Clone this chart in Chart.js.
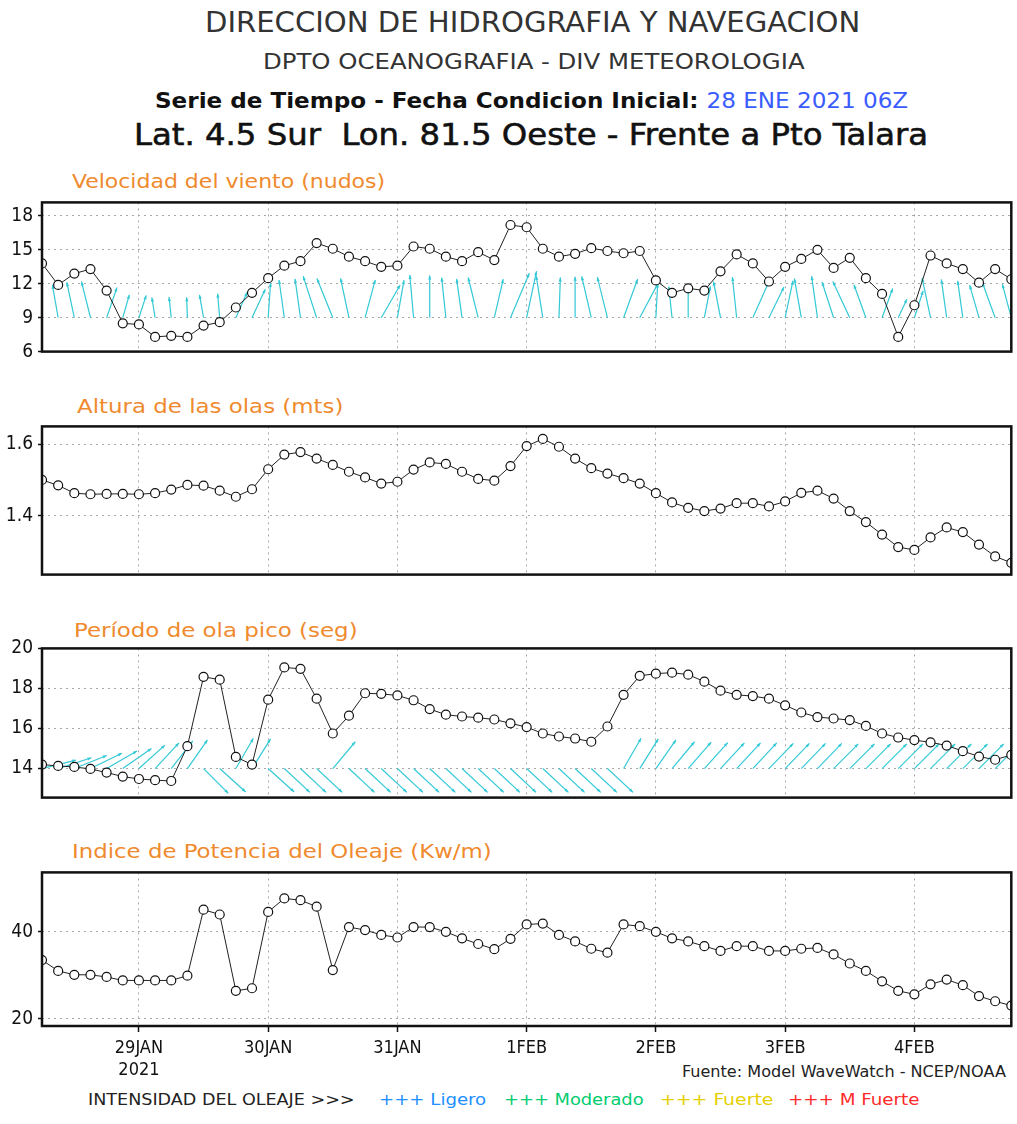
<!DOCTYPE html>
<html>
<head>
<meta charset="utf-8">
<script src="https://cdn.jsdelivr.net/npm/chart.js@4.4.1/dist/chart.umd.min.js"></script>
<style>
  body { margin: 0; background: #fff; width: 1017px; height: 1124px; position: relative; overflow: hidden;
         font-family: "Liberation Sans Narrow", "DejaVu Sans Condensed", sans-serif; }
  .txt { position: absolute; white-space: pre; line-height: 1; transform-origin: left center; color: #222; }
  .thin { color: #333; font-weight: 200; }
  .orange { color: #ef8a2e; }
  canvas { position: absolute; left: 0; }
</style>
</head>
<body>

<div class="txt thin" data-x="205" data-y="22" data-w="655" style="font-size:29px">DIRECCION DE HIDROGRAFIA Y NAVEGACION</div>
<div class="txt thin" data-x="263" data-y="62" data-w="542" style="font-size:21px">DPTO OCEANOGRAFIA - DIV METEOROLOGIA</div>
<div class="txt" data-x="155" data-y="101" data-w="753" style="font-size:22px"><span style="font-weight:bold;color:#111">Serie de Tiempo - Fecha Condicion Inicial: </span><span style="color:#3a5cff">28 ENE 2021 06Z</span></div>
<div class="txt" data-x="134" data-y="135" data-w="794" style="font-size:30px;color:#111;-webkit-text-stroke:0.5px #111">Lat. 4.5 Sur  Lon. 81.5 Oeste - Frente a Pto Talara</div>

<div class="txt orange" data-x="72" data-y="181" data-w="313" style="font-size:20px">Velocidad del viento (nudos)</div>
<div class="txt orange" data-x="77" data-y="406" data-w="266" style="font-size:20px">Altura de las olas (mts)</div>
<div class="txt orange" data-x="74" data-y="630" data-w="284" style="font-size:20px">Período de ola pico (seg)</div>
<div class="txt orange" data-x="72" data-y="851" data-w="420" style="font-size:20px">Indice de Potencia del Oleaje (Kw/m)</div>

<div class="txt" data-x="682" data-y="1072" data-w="324" style="font-size:15px">Fuente: Model WaveWatch - NCEP/NOAA</div>
<div class="txt" data-x="88" data-y="1100" data-w="266" style="font-size:16px">INTENSIDAD DEL OLEAJE &gt;&gt;&gt;</div>
<div class="txt" data-x="379" data-y="1100" data-w="107" style="font-size:16px;color:#1e8fff">+++ Ligero</div>
<div class="txt" data-x="504" data-y="1100" data-w="140" style="font-size:16px;color:#00cc70">+++ Moderado</div>
<div class="txt" data-x="660" data-y="1100" data-w="114" style="font-size:16px;color:#e5cf00">+++ Fuerte</div>
<div class="txt" data-x="788" data-y="1100" data-w="132" style="font-size:16px;color:#ff2a2a">+++ M Fuerte</div>

<script>
// time axis labels (hours since 28 ENE 2021 06Z)
const dayLabels = ['29JAN', '30JAN', '31JAN', '1FEB', '2FEB', '3FEB', '4FEB'];
const dayHours = [18, 42, 66, 90, 114, 138, 162];
const yearLabel = '2021';

// Velocidad del viento (nudos), every 3 h
const windSpeed = [13.8, 11.9, 12.9, 13.3, 11.4, 8.5, 8.4, 7.3, 7.4, 7.3,
  8.3, 8.6, 9.9, 11.2, 12.5, 13.6, 14.0, 15.6, 15.1, 14.4,
  14.0, 13.5, 13.6, 15.3, 15.1, 14.4, 14.0, 14.8, 14.1, 17.2,
  17.0, 15.1, 14.4, 14.65, 15.15, 14.9, 14.7, 14.9, 12.3, 11.2,
  11.6, 11.4, 13.1, 14.6, 13.8, 12.2, 13.5, 14.2, 15.0, 13.4,
  14.3, 12.5, 11.1, 7.3, 10.1, 14.5, 13.8, 13.3, 12.1, 13.3,
  12.4];
// wind vector direction, degrees clockwise from up
const windDir = [-10, -10, -12, -14, 19, 16, 18, -9, -6, -2,
  -10, -5, 24, 25, 4, -8, -8, -18, -22, -12,
  15, 30, 10, -5, 0, -6, -8, -14, 13, 23,
  12, -9, 2, 0, -13, -14, 20, 28, 3, -6,
  0, 11, -11, -6, 24, 26, 12, -10, -8, -18,
  -25, -20, 20, 25, 18, -12, -8, -8, -16, -20,
  -15];

// Altura de las olas (mts)
const waveHeight = [1.50, 1.485, 1.463, 1.46, 1.461, 1.461, 1.46, 1.463, 1.473, 1.486,
  1.484, 1.47, 1.453, 1.474, 1.53, 1.571, 1.578, 1.56, 1.542, 1.523,
  1.507, 1.49, 1.495, 1.529, 1.549, 1.545, 1.523, 1.503, 1.498, 1.539,
  1.595, 1.615, 1.593, 1.56, 1.533, 1.518, 1.505, 1.49, 1.463, 1.437,
  1.422, 1.413, 1.42, 1.435, 1.435, 1.426, 1.44, 1.464, 1.47, 1.448,
  1.413, 1.382, 1.347, 1.312, 1.304, 1.339, 1.367, 1.354, 1.319, 1.286,
  1.268];

// Periodo de ola pico (seg)
const wavePeriod = [14.2, 14.13, 14.08, 13.98, 13.8, 13.6, 13.48, 13.42, 13.38, 15.12,
  18.58, 18.44, 14.58, 14.2, 17.44, 19.05, 18.98, 17.49, 15.75, 16.64,
  17.76, 17.73, 17.65, 17.41, 16.97, 16.69, 16.6, 16.54, 16.45, 16.26,
  16.07, 15.75, 15.6, 15.5, 15.34, 16.1, 17.68, 18.63, 18.74, 18.79,
  18.69, 18.34, 17.89, 17.68, 17.62, 17.49, 17.16, 16.8, 16.57, 16.5,
  16.42, 16.13, 15.75, 15.55, 15.42, 15.31, 15.15, 14.87, 14.6, 14.44,
  14.68];
// wave vector direction, degrees clockwise from up
const waveDir = [76, 72, 68, 64, 60, 55, 48, 43, 38, 35,
  135, 132, 30, 32, 132, 133, 133, 133, 40, 133,
  133, 133, 133, 133, 133, 133, 133, 133, 133, 133,
  133, 133, 133, 133, 133, 133, 30, 32, 35, 40,
  41, 42, 43, 43, 43, 44, 44, 44, 44, 45,
  45, 45, 45, 45, 45, 45, 45, 45, 45, 45,
  45];

// Indice de Potencia del Oleaje (Kw/m)
const wavePower = [33.5, 31.0, 30.1, 30.1, 29.6, 28.8, 28.8, 28.8, 28.8, 29.9,
  45.1, 44.0, 26.4, 27.0, 44.6, 47.7, 47.3, 45.8, 31.2, 41.1,
  40.4, 39.3, 38.7, 41.1, 41.1, 40.0, 38.5, 37.2, 36.0, 38.4,
  41.7, 41.9, 39.3, 37.8, 36.1, 35.2, 41.7, 41.3, 40.0, 38.5,
  37.8, 36.7, 35.6, 36.7, 36.7, 35.6, 35.6, 36.1, 36.3, 34.8,
  32.7, 31.0, 28.6, 26.4, 25.6, 27.9, 29.0, 27.7, 25.2, 24.0,
  23.0];

const steps = windSpeed.map((_, i) => i * 3);

const FONT = '"Liberation Sans Narrow", "DejaVu Sans Condensed", sans-serif';
const CYAN = '#33c9d6';

// squeeze each text line to its width in the reference
document.querySelectorAll('.txt').forEach(el => {
  el.style.left = el.dataset.x + 'px';
  el.style.top = el.dataset.y + 'px';
  const k = el.dataset.w / el.offsetWidth;
  el.style.transform = `translateY(-50%) scaleX(${k})`;
});

function arrowPlugin(dirs, baseValue, lenOf) {
  return {
    id: 'arrows',
    beforeDatasetsDraw(chart) {
      const { ctx, chartArea: a, scales: { x, y } } = chart;
      ctx.save();
      ctx.beginPath();
      ctx.rect(a.left, a.top, a.right - a.left, a.bottom - a.top);
      ctx.clip();
      ctx.strokeStyle = CYAN;
      ctx.fillStyle = CYAN;
      ctx.lineWidth = 1.2;
      dirs.forEach((d, i) => {
        const x0 = x.getPixelForValue(steps[i]);
        const y0 = y.getPixelForValue(baseValue);
        const r = d * Math.PI / 180;
        const len = lenOf(i);
        const ux = Math.sin(r), uy = -Math.cos(r);
        const x1 = x0 + len * ux, y1 = y0 + len * uy;
        ctx.beginPath();
        ctx.moveTo(x0, y0);
        ctx.lineTo(x1, y1);
        ctx.stroke();
        // small head
        ctx.beginPath();
        ctx.moveTo(x1, y1);
        ctx.lineTo(x1 - 4 * ux - 1.6 * uy, y1 - 4 * uy + 1.6 * ux);
        ctx.lineTo(x1 - 4 * ux + 1.6 * uy, y1 - 4 * uy - 1.6 * ux);
        ctx.closePath();
        ctx.fill();
      });
      ctx.restore();
    }
  };
}

const framePlugin = {
  id: 'frame',
  afterDraw(chart) {
    const { ctx, chartArea: a } = chart;
    ctx.save();
    ctx.strokeStyle = '#111';
    ctx.lineWidth = 2.5;
    ctx.strokeRect(a.left, a.top, a.right - a.left, a.bottom - a.top);
    ctx.restore();
  }
};

function makePanel(cfg) {
  const padTop = 12;
  const bottomSpace = cfg.showDates ? 62 : 12;
  const canvas = document.createElement('canvas');
  const h = padTop + (cfg.bottom - cfg.top) + bottomSpace;
  canvas.width = 1017;
  canvas.height = h;
  canvas.style.top = (cfg.top - padTop) + 'px';
  document.body.appendChild(canvas);

  new Chart(canvas, {
    type: 'line',
    data: {
      labels: steps,
      datasets: [{
        data: cfg.values,
        borderColor: '#222',
        borderWidth: 1,
        pointRadius: 4.5,
        pointBorderWidth: 1.2,
        pointBackgroundColor: '#fff',
        pointBorderColor: '#111',
        tension: 0
      }]
    },
    options: {
      responsive: false,
      devicePixelRatio: 1,
      animation: false,
      events: [],
      layout: { padding: { top: padTop, right: 5, left: 0, bottom: cfg.showDates ? 0 : 12 } },
      plugins: { legend: { display: false }, tooltip: { enabled: false } },
      scales: {
        x: {
          type: 'linear',
          min: 0,
          max: 180,
          afterBuildTicks: s => { s.ticks = dayHours.map(v => ({ value: v })); },
          afterFit: s => { s.height = cfg.showDates ? 62 : 0; },
          grid: { color: '#a8a8a8', lineWidth: 1, drawTicks: !!cfg.showDates, tickLength: 6, tickColor: '#111', tickWidth: 1.5 },
          border: { display: false, dash: [2, 4] },
          ticks: {
            display: !!cfg.showDates,
            autoSkip: false,
            maxRotation: 0,
            padding: 6,
            color: '#111',
            font: { family: FONT, size: 18, lineHeight: 1.2 },
            callback: v => {
              const idx = dayHours.indexOf(v);
              return idx === 0 ? [dayLabels[0], yearLabel] : dayLabels[idx];
            }
          }
        },
        y: {
          min: cfg.yMin,
          max: cfg.yMax,
          afterBuildTicks: s => { s.ticks = cfg.yTicks.map(v => ({ value: v })); },
          afterFit: s => { s.width = 42; },
          grid: { color: '#a8a8a8', lineWidth: 1, tickLength: 4, tickColor: '#111', tickWidth: 1.5 },
          border: { display: false, dash: [2, 4] },
          ticks: {
            padding: 5,
            color: '#111',
            font: { family: FONT, size: 19 },
            callback: v => String(+v.toFixed(2))
          }
        }
      }
    },
    plugins: cfg.extra ? [cfg.extra, framePlugin] : [framePlugin]
  });
}

makePanel({ top: 198, bottom: 356, yMin: 6, yMax: 19.2, yTicks: [6, 9, 12, 15, 18], values: windSpeed,
  extra: arrowPlugin(windDir, 9, i => windSpeed[i] * 2.8) });
makePanel({ top: 422, bottom: 579, yMin: 1.235, yMax: 1.65, yTicks: [1.4, 1.6], values: waveHeight });
makePanel({ top: 644, bottom: 802, yMin: 12.55, yMax: 20, yTicks: [14, 16, 18, 20], values: wavePeriod,
  extra: arrowPlugin(waveDir, 14, () => 35) });
makePanel({ top: 868, bottom: 1026, yMin: 18.3, yMax: 53.7, yTicks: [20, 40], values: wavePower, showDates: true });
</script>
</body>
</html>
